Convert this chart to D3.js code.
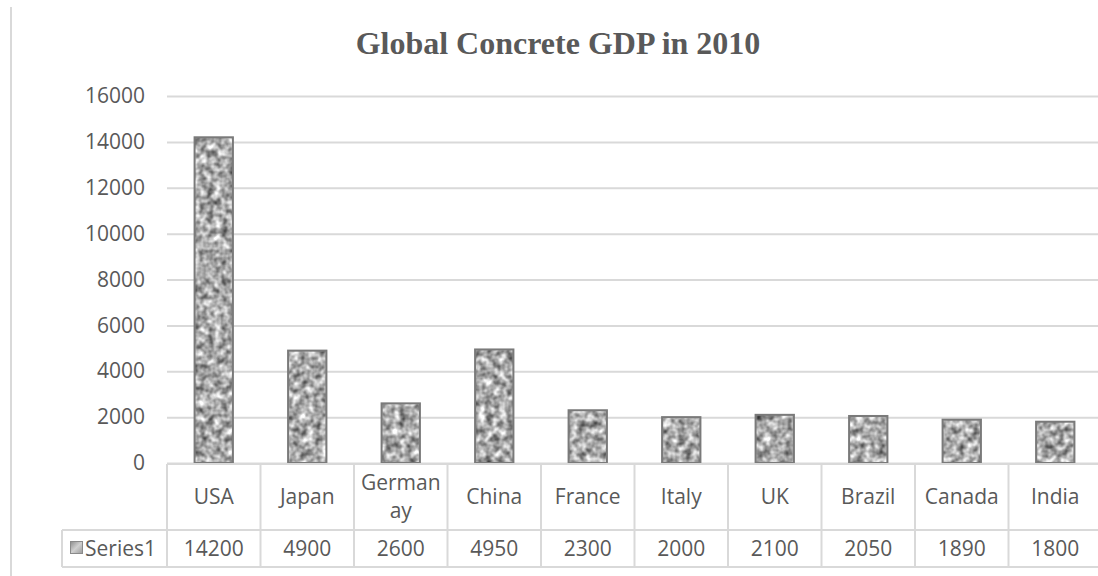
<!DOCTYPE html>
<html>
<head>
<meta charset="utf-8">
<script src="https://cdn.jsdelivr.net/npm/d3@7"></script>
<style>
  body { margin: 0; background: #fff; }
  text { font-family: "Open Sans", "Noto Sans", sans-serif; fill: #595959; }
</style>
</head>
<body>
<div id="chart"></div>
<script>
// data
const categories = ['USA', 'Japan', 'Germanay', 'China', 'France', 'Italy', 'UK', 'Brazil', 'Canada', 'India'];
const values = [14200, 4900, 2600, 4950, 2300, 2000, 2100, 2050, 1890, 1800];
const yTicks = [0, 2000, 4000, 6000, 8000, 10000, 12000, 14000, 16000];
const seriesName = 'Series1';
const chartTitle = 'Global Concrete GDP in 2010';

const width = 1098, height = 576;
const margin = {top: 96, left: 167, bottom: 113};
const plotRight = 1102;
const gridColor = '#d9d9d9';
const fontSize = '21px';

const svg = d3.select('#chart').append('svg')
    .attr('width', width)
    .attr('height', height);

const defs = svg.append('defs');

// noisy "concrete" fill
const filter = defs.append('filter')
    .attr('id', 'concrete')
    .attr('color-interpolation-filters', 'sRGB')
    .attr('x', 0).attr('y', 0).attr('width', 1).attr('height', 1);
filter.append('feTurbulence')
    .attr('type', 'fractalNoise')
    .attr('baseFrequency', 0.14)
    .attr('numOctaves', 2)
    .attr('seed', 4)
    .attr('result', 'noise');
filter.append('feColorMatrix')
    .attr('in', 'noise')
    .attr('type', 'matrix')
    .attr('values', '1.1 0 0 0 0.12  1.1 0 0 0 0.12  1.1 0 0 0 0.12  0 0 0 0 1')
    .attr('result', 'gray');
filter.append('feComposite')
    .attr('in', 'gray')
    .attr('in2', 'SourceGraphic')
    .attr('operator', 'in');

const keyGrad = defs.append('linearGradient')
    .attr('id', 'keyGrad')
    .attr('x1', 0).attr('y1', 0).attr('x2', 1).attr('y2', 1);
keyGrad.append('stop').attr('offset', '0%').attr('stop-color', '#8c8c8c');
keyGrad.append('stop').attr('offset', '50%').attr('stop-color', '#d0d0d0');
keyGrad.append('stop').attr('offset', '100%').attr('stop-color', '#9a9a9a');

// outer border (left side only visible)
svg.append('line')
    .attr('x1', 11).attr('x2', 11)
    .attr('y1', 7).attr('y2', height)
    .attr('stroke', gridColor)
    .attr('stroke-width', 2);

// title
svg.append('text')
    .attr('x', 558)
    .attr('y', 54)
    .attr('text-anchor', 'middle')
    .style('font-family', '"Liberation Serif", "Times New Roman", serif')
    .style('font-weight', 'bold')
    .style('font-size', '32px')
    .text(chartTitle);

const xScale = d3.scaleBand()
    .domain(categories)
    .range([margin.left, plotRight])
    .paddingInner(0)
    .paddingOuter(0);

const yScale = d3.scaleLinear()
    .domain([0, 16000])
    .range([height - margin.bottom, margin.top]);

// gridlines + y labels
const yAxis = d3.axisLeft(yScale)
    .tickValues(yTicks)
    .tickSize(-(width - margin.left))
    .tickPadding(22)
    .tickFormat(d3.format('d'));

const yAxisG = svg.append('g')
    .attr('transform', `translate(${margin.left},0)`)
    .call(yAxis)
    .call(g => g.select('.domain').remove());

yAxisG.selectAll('.tick line')
    .attr('stroke', gridColor)
    .attr('stroke-width', 2);
yAxisG.selectAll('.tick text')
    .style('font-size', fontSize)
    .style('font-family', '"Open Sans", sans-serif')
    .attr('fill', '#595959');

// bars
const barW = xScale.bandwidth() * 0.41;
const bars = svg.append('g');
bars.selectAll('.bar')
    .data(values)
    .join('rect')
    .attr('class', 'bar')
    .attr('x', (d, i) => xScale(categories[i]) + (xScale.bandwidth() - barW) / 2)
    .attr('y', d => yScale(d))
    .attr('width', barW)
    .attr('height', d => yScale(0) - yScale(d))
    .attr('fill', '#000')
    .attr('filter', 'url(#concrete)');
bars.selectAll('.bar-edge')
    .data(values)
    .join('rect')
    .attr('class', 'bar-edge')
    .attr('x', (d, i) => xScale(categories[i]) + (xScale.bandwidth() - barW) / 2)
    .attr('y', d => yScale(d))
    .attr('width', barW)
    .attr('height', d => yScale(0) - yScale(d))
    .attr('fill', 'none')
    .attr('stroke', '#7a7a7a')
    .attr('stroke-width', 2);

// data table
const rowTop = yScale(0) + 1;
const row2Top = 530;
const rowBottom = 567;
const legendLeft = 62;
const table = svg.append('g')
    .attr('stroke', gridColor)
    .attr('stroke-width', 2);

table.append('line').attr('x1', margin.left).attr('x2', width).attr('y1', rowTop).attr('y2', rowTop);
table.append('line').attr('x1', legendLeft).attr('x2', width).attr('y1', row2Top).attr('y2', row2Top);
table.append('line').attr('x1', legendLeft).attr('x2', width).attr('y1', rowBottom).attr('y2', rowBottom);
table.append('line').attr('x1', legendLeft).attr('x2', legendLeft).attr('y1', row2Top).attr('y2', rowBottom);

table.selectAll('.col-line')
    .data(categories.concat(['_end']))
    .join('line')
    .attr('class', 'col-line')
    .attr('x1', (d, i) => margin.left + i * xScale.bandwidth())
    .attr('x2', (d, i) => margin.left + i * xScale.bandwidth())
    .attr('y1', rowTop)
    .attr('y2', rowBottom);

// category labels, wrapped by character like the original cell
const catText = svg.append('g')
    .selectAll('text')
    .data(categories)
    .join('text')
    .attr('text-anchor', 'middle')
    .style('font-size', fontSize);

catText.each(function(d) {
  const t = d3.select(this);
  const cx = xScale(d) + xScale.bandwidth() / 2;
  const maxW = xScale.bandwidth() - 10;
  const lines = [];
  let cur = '';
  t.text(d);
  if (this.getComputedTextLength() > maxW) {
    for (const ch of d) {
      t.text(cur + ch);
      if (this.getComputedTextLength() > maxW) {
        lines.push(cur);
        cur = ch;
      } else {
        cur += ch;
      }
    }
    lines.push(cur);
  } else {
    lines.push(d);
  }
  t.text(null);
  const lh = 28;
  const y0 = 504 - (lines.length - 1) * lh / 2;
  lines.forEach((ln, k) => {
    t.append('tspan')
      .attr('x', cx)
      .attr('y', y0 + k * lh)
      .text(ln);
  });
});

// value row
svg.append('g')
    .selectAll('text')
    .data(values)
    .join('text')
    .attr('x', (d, i) => xScale(categories[i]) + xScale.bandwidth() / 2)
    .attr('y', 556)
    .attr('text-anchor', 'middle')
    .style('font-size', fontSize)
    .text(d => d);

// legend key cell
svg.append('rect')
    .attr('x', 70.5).attr('y', 541.5)
    .attr('width', 12).attr('height', 12)
    .attr('fill', 'url(#keyGrad)')
    .attr('stroke', '#8a8a8a')
    .attr('stroke-width', 1);
svg.append('text')
    .attr('x', 85)
    .attr('y', 556)
    .style('font-size', fontSize)
    .text(seriesName);
</script>
</body>
</html>
